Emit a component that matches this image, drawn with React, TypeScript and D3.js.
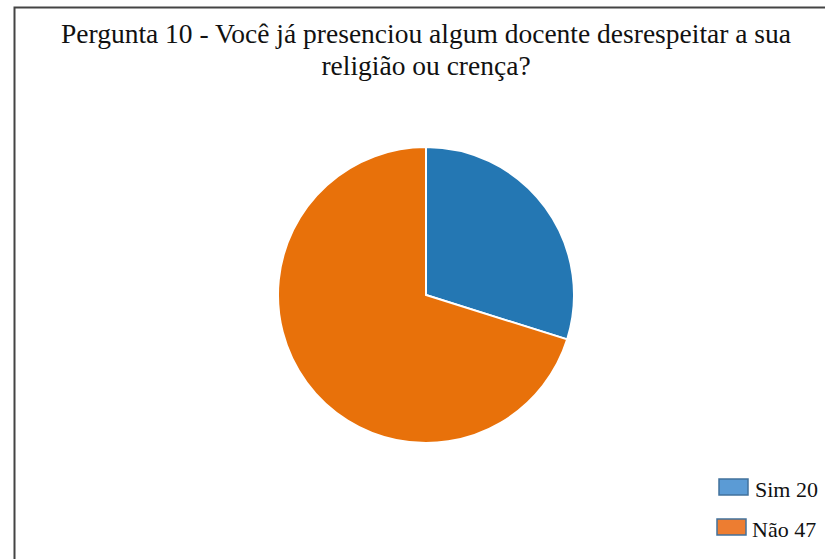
import React from "react";
import * as d3 from "d3";

const labels = ["Sim", "Não"];
const values = [20, 47];
const sliceColors = ["#2477B3", "#E8710A"];
const legendColors = ["#5B9BD5", "#ED7D31"];
const titleLines = [
  "Pergunta 10 - Você já presenciou algum docente desrespeitar a sua",
  "religião ou crença?",
];

const SERIF = "Liberation Serif";

export default function App() {
  const W = 825, H = 559;
  const cx = 426, cy = 295, r = 148;
  const pie = d3.pie<number>().sort(null).value((d) => d)(values);
  const arc = d3.arc<d3.PieArcDatum<number>>().innerRadius(0).outerRadius(r);
  return (
    <svg width={W} height={H} style={{ position: "absolute", left: 0, top: 0 }}>
      <rect x={0} y={0} width={W} height={H} fill="#fff" />
      <rect x={14.5} y={7.5} width={W + 10} height={H + 10} fill="none" stroke="#444" strokeWidth={2} />
      {titleLines.map((t, i) => (
        <text key={i} x={426} y={43 + i * 32} textAnchor="middle" fontFamily={SERIF} fontSize={27.5} fill="#111">
          {t}
        </text>
      ))}
      <g transform={`translate(${cx},${cy})`}>
        {pie.map((p, i) => (
          <path key={i} d={arc(p) || ""} fill={sliceColors[i]} stroke="#fff" strokeWidth={2} />
        ))}
      </g>
      {labels.map((l, i) => (
        <g key={i} transform={`translate(${719 - i * 2},${479 + i * 40})`}>
          <rect x={0} y={0} width={29} height={16} fill={legendColors[i]} stroke="#41719C" strokeWidth={1.5} />
          <text x={36 - i * 1} y={18} fontFamily={SERIF} fontSize={22} fill="#111">
            {`${l} ${values[i]}`}
          </text>
        </g>
      ))}
    </svg>
  );
}
